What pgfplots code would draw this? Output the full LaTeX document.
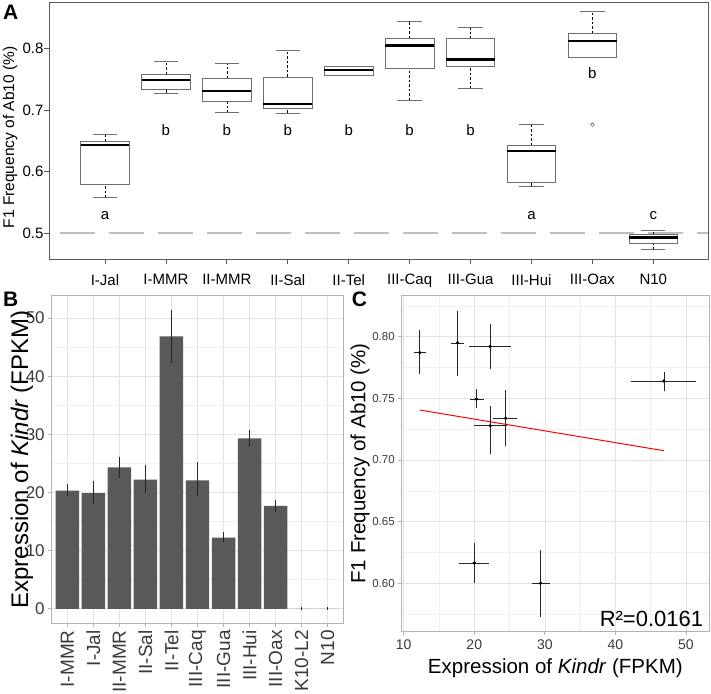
\documentclass[border=0pt]{standalone}
\usepackage{pgfplots}
\pgfplotsset{compat=1.18}
\usepgfplotslibrary{statistics}
\usepackage{fontspec}
\setmainfont{Liberation Sans}
\definecolor{axgray}{HTML}{5A5A5A}
\definecolor{boxgray}{HTML}{6E6E6E}
\definecolor{refgray}{HTML}{BEBEBE}
\definecolor{barfill}{HTML}{595959}
\definecolor{panelborder}{HTML}{B3B3B3}
\definecolor{gridmaj}{HTML}{E3E3E3}
\definecolor{gridmin}{HTML}{F0F0F0}
\definecolor{ticktext}{HTML}{3A3A3A}
\newcommand{\fs}[1]{\fontsize{#1bp}{#1bp}\selectfont}
\begin{document}
\begin{tikzpicture}
\useasboundingbox (0,0) rectangle (711bp,694bp);
% ---------------- Panel A ----------------
\begin{axis}[
  at={(49bp,435bp)}, anchor=south west,
  scale only axis, width=659bp, height=257bp,
  xmin=0.081, xmax=10.898, ymin=0.4585, ymax=0.8757,
  /pgf/number format/assume math mode=true,
  axis line style={axgray, line width=0.8bp},
  tick style={axgray, line width=0.8bp},
  tick align=outside, tick pos=left,
  major tick length=5bp,
  xtick={1,...,10},
  xticklabels={I-Jal,I-MMR,II-MMR,II-Sal,II-Tel,III-Caq,III-Gua,III-Hui,III-Oax,N10},
  ytick={0.5,0.6,0.7,0.8},
  yticklabels={0.5,0.6,0.7,0.8},
  tick label style={font=\fs{15}, black},
  xticklabel style={yshift=-7bp},
  yticklabel style={xshift=3bp},
  ylabel={F1 Frequency of Ab10 (\%)},
  every axis y label/.style={at={(axis description cs:-0.059,0.473)}, rotate=90, anchor=center, font=\fs{15.5}},
  boxplot/draw direction=y,
  boxplot/box extend=0.8,
  boxplot/whisker extend=0.4,
  boxplot/draw/box/.code={\draw[boxgray, line width=0.8bp] (boxplot box cs:\pgfplotsboxplotvalue{lower quartile},0) rectangle (boxplot box cs:\pgfplotsboxplotvalue{upper quartile},1);},
  boxplot/draw/median/.code={\draw[black, line width=2.2bp] (boxplot box cs:\pgfplotsboxplotvalue{median},0) -- (boxplot box cs:\pgfplotsboxplotvalue{median},1);},
  boxplot/draw/lower whisker/.code={\draw[black, line width=0.6bp, dash pattern=on 2.5bp off 2bp] (boxplot box cs:\pgfplotsboxplotvalue{lower whisker},0.5) -- (boxplot box cs:\pgfplotsboxplotvalue{lower quartile},0.5); \draw[boxgray, line width=0.8bp] (boxplot whisker cs:\pgfplotsboxplotvalue{lower whisker},0) -- (boxplot whisker cs:\pgfplotsboxplotvalue{lower whisker},1);},
  boxplot/draw/upper whisker/.code={\draw[black, line width=0.6bp, dash pattern=on 2.5bp off 2bp] (boxplot box cs:\pgfplotsboxplotvalue{upper quartile},0.5) -- (boxplot box cs:\pgfplotsboxplotvalue{upper whisker},0.5); \draw[boxgray, line width=0.8bp] (boxplot whisker cs:\pgfplotsboxplotvalue{upper whisker},0) -- (boxplot whisker cs:\pgfplotsboxplotvalue{upper whisker},1);},
]
\addplot[refgray, line width=2bp, dash pattern=on 35bp off 14bp, dash phase=38bp] coordinates {(0.081,0.5) (10.898,0.5)};
\addplot[boxplot prepared={draw position=1, lower whisker=0.558, lower quartile=0.579, median=0.643, upper quartile=0.6496, upper whisker=0.660}] coordinates {};
\addplot[boxplot prepared={draw position=2, lower whisker=0.728, lower quartile=0.733, median=0.7485, upper quartile=0.758, upper whisker=0.780}] coordinates {};
\addplot[boxplot prepared={draw position=3, lower whisker=0.696, lower quartile=0.7145, median=0.731, upper quartile=0.752, upper whisker=0.7755}] coordinates {};
\addplot[boxplot prepared={draw position=4, lower whisker=0.6955, lower quartile=0.7026, median=0.7107, upper quartile=0.754, upper whisker=0.797}] coordinates {};
\addplot[boxplot prepared={draw position=5, lower whisker=0.7566, lower quartile=0.7566, median=0.7647, upper quartile=0.7717, upper whisker=0.7717}] coordinates {};
\addplot[boxplot prepared={draw position=6, lower whisker=0.7161, lower quartile=0.7684, median=0.8052, upper quartile=0.817, upper whisker=0.8436}] coordinates {};
\addplot[boxplot prepared={draw position=7, lower whisker=0.735, lower quartile=0.771, median=0.7825, upper quartile=0.816, upper whisker=0.8339}] coordinates {};
\addplot[boxplot prepared={draw position=8, lower whisker=0.577, lower quartile=0.5826, median=0.6334, upper quartile=0.643, upper whisker=0.6776}] coordinates {};
\addplot[boxplot prepared={draw position=9, lower whisker=0.7857, lower quartile=0.7857, median=0.812, upper quartile=0.8246, upper whisker=0.8603}, mark=o, mark size=1.8bp, mark options={boxgray, line width=0.6bp}] table[row sep=\\, y index=0] {0.6767\\};
\addplot[boxplot prepared={draw position=10, lower whisker=0.474, lower quartile=0.4838, median=0.4935, upper quartile=0.4989, upper whisker=0.5054}] coordinates {};
\node[font=\fs{15}, anchor=base] at (axis cs:1,0.5227) {a};
\node[font=\fs{15}, anchor=base] at (axis cs:2,0.6593) {b};
\node[font=\fs{15}, anchor=base] at (axis cs:3,0.6593) {b};
\node[font=\fs{15}, anchor=base] at (axis cs:4,0.6593) {b};
\node[font=\fs{15}, anchor=base] at (axis cs:5,0.6593) {b};
\node[font=\fs{15}, anchor=base] at (axis cs:6,0.6593) {b};
\node[font=\fs{15}, anchor=base] at (axis cs:7,0.6593) {b};
\node[font=\fs{15}, anchor=base] at (axis cs:8,0.5227) {a};
\node[font=\fs{15}, anchor=base] at (axis cs:9,0.7512) {b};
\node[font=\fs{15}, anchor=base] at (axis cs:10,0.5227) {c};
\end{axis}
% ---------------- Panel B ----------------
\begin{axis}[
  at={(51.7bp,70.7bp)}, anchor=south west,
  scale only axis, width=291.6bp, height=327.6bp,
  xmin=0.4, xmax=11.6, ymin=-2.5, ymax=53.85,
  /pgf/number format/assume math mode=true,
  axis line style={panelborder, line width=1bp},
  tick style={panelborder, line width=0.8bp},
  tick align=outside, tick pos=left,
  major tick length=3.5bp, minor tick length=0pt,
  xtick={1,...,11},
  xticklabels={I-MMR,I-Jal,II-MMR,II-Sal,II-Tel,III-Caq,III-Gua,III-Hui,III-Oax,K10-L2,N10},
  xticklabel style={rotate=90, anchor=east, font=\fs{19}, color=ticktext},
  ytick={0,10,20,30,40,50},
  minor ytick={5,15,25,35,45},
  yticklabel style={font=\fs{17}, color=ticktext},
  grid=both,
  major grid style={gridmaj, line width=0.6bp},
  minor grid style={gridmin, line width=0.5bp},
  ylabel={Expression of \textit{Kindr} (FPKM)},
  every axis y label/.style={at={(axis description cs:-0.102,0.5)}, rotate=90, anchor=center, font=\fs{24}},
]
\addplot[ybar, bar width=0.9, fill=barfill, draw=none,
  error bars/.cd, y dir=both, y explicit,
  error bar style={black!85, line width=0.6bp},
  error mark options={black!85, mark size=1.6bp, line width=0.6bp}]
coordinates {
(1,20.3) += (0,0.9) -= (0,0.7)
(2,19.9) += (0,1.8) -= (0,1.6)
(3,24.3) += (0,1.6) -= (0,1.45)
(4,22.2) += (0,2.2) -= (0,2.0)
(5,46.85) += (0,4.35) -= (0,4.25)
(6,22.1) += (0,2.8) -= (0,2.5)
(7,12.25) += (0,0.65) -= (0,0.55)
(8,29.3) += (0,1.2) -= (0,0.95)
(9,17.7) += (0,0.7) -= (0,0.7)
(10,0) += (0,0) -= (0,0)
(11,0) += (0,0) -= (0,0)
};
\end{axis}
% ---------------- Panel C ----------------
\begin{axis}[
  at={(401.7bp,63bp)}, anchor=south west,
  scale only axis, width=307.3bp, height=335.3bp,
  xmin=9.72, xmax=53.26, ymin=0.5613, ymax=0.8332,
  /pgf/number format/assume math mode=true,
  axis line style={panelborder, line width=1bp},
  tick style={panelborder, line width=0.8bp},
  tick align=outside, tick pos=left,
  major tick length=3.5bp, minor tick length=0pt,
  xtick={10,20,30,40,50},
  minor xtick={15,25,35,45},
  ytick={0.6,0.65,0.7,0.75,0.8},
  yticklabels={0.60,0.65,0.70,0.75,0.80},
  minor ytick={0.575,0.625,0.675,0.725,0.775,0.825},
  xticklabel style={font=\fs{14}, color=ticktext, yshift=-2bp},
  yticklabel style={font=\fs{11.5}, color=ticktext},
  grid=both,
  major grid style={gridmaj, line width=0.6bp},
  minor grid style={gridmin, line width=0.5bp},
  xlabel={Expression of \textit{Kindr} (FPKM)},
  ylabel={F1 Frequency of Ab10 (\%)},
  every axis x label/.style={at={(axis description cs:0.5,-0.11)}, anchor=center, font=\fs{20.5}},
  every axis y label/.style={at={(axis description cs:-0.1357,0.5)}, rotate=90, anchor=center, font=\fs{20.5}},
]
\addplot[red, line width=1bp] coordinates {(12.28,0.7405) (46.87,0.7075)};
\addplot[only marks, mark=*, mark size=1.3bp, black,
  error bars/.cd, x dir=both, x explicit,
  error bar style={black!85, line width=0.6bp},
  error mark options={black!85, mark size=1.6bp, line width=0.6bp}]
coordinates {
(12.28,0.787) += (0.62,0) -= (0.58,0)
(17.65,0.795) += (0.71,0) -= (0.65,0)
(22.27,0.792) += (2.69,0) -= (2.77,0)
(46.87,0.764) += (4.39,0) -= (4.37,0)
(20.29,0.7494) += (0.90,0) -= (0.72,0)
(24.45,0.7338) += (1.41,0) -= (1.62,0)
(22.27,0.7278) += (2.18,0) -= (2.07,0)
(20.0,0.6165) += (1.8,0) -= (1.9,0)
(29.4,0.600) += (1.1,0) -= (1.04,0)
};
\addplot[only marks, mark=*, mark size=1.3bp, black,
  error bars/.cd, y dir=both, y explicit, error mark=none,
  error bar style={black!85, line width=0.6bp}]
coordinates {
(12.28,0.787) += (0,0.018) -= (0,0.017)
(17.65,0.795) += (0,0.0258) -= (0,0.0267)
(22.27,0.792) += (0,0.0185) -= (0,0.0185)
(46.87,0.764) += (0,0.0074) -= (0,0.0083)
(20.29,0.7494) += (0,0.0079) -= (0,0.007)
(24.45,0.7338) += (0,0.0229) -= (0,0.0225)
(22.27,0.7278) += (0,0.0159) -= (0,0.0232)
(20.0,0.6165) += (0,0.0159) -= (0,0.0165)
(29.4,0.600) += (0,0.0268) -= (0,0.027)
};
\node[anchor=base east, inner sep=0pt, font=\fs{22}] at (rel axis cs:0.9815,0.0128) {R²=0.0161};
\end{axis}
% panel letters
\node[anchor=base west, inner sep=0pt, font=\fs{21}\bfseries] at (3bp,674bp) {A};
\node[anchor=base west, inner sep=0pt, font=\fs{21}\bfseries] at (3bp,387.3bp) {B};
\node[anchor=base west, inner sep=0pt, font=\fs{21}\bfseries] at (351.7bp,387.3bp) {C};
\end{tikzpicture}
\end{document}
